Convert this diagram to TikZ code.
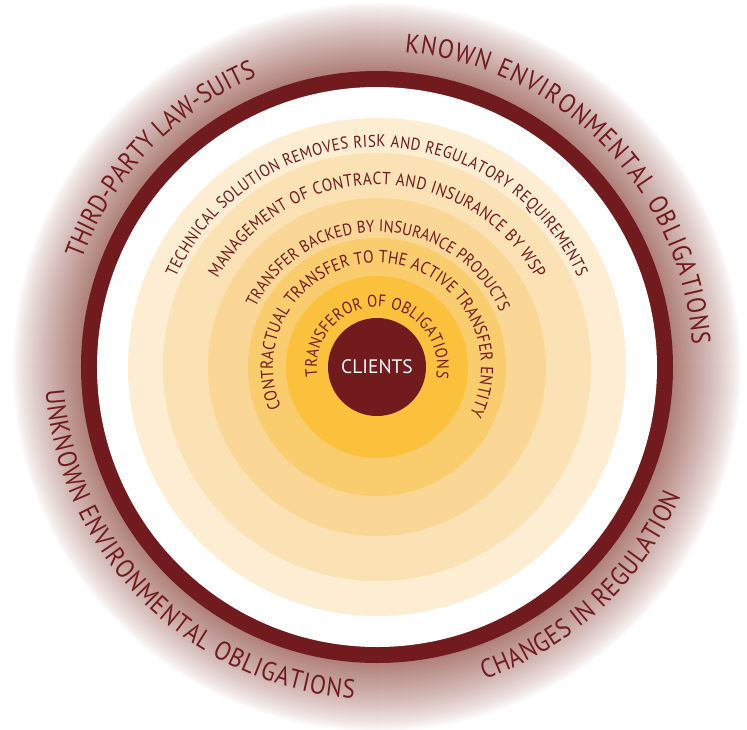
\documentclass[tikz,border=0pt]{standalone}
\usepackage{fontspec}
\setmainfont{PT Sans}
\newfontfamily\arcfont[FakeStretch=0.88]{PT Sans}
\usetikzlibrary{decorations.text}
\definecolor{wine}{RGB}{114,27,31}
\definecolor{glowA}{RGB}{176,128,122}
\definecolor{ringA}{RGB}{253,237,211}
\definecolor{ringB}{RGB}{251,226,180}
\definecolor{ringC}{RGB}{250,215,150}
\definecolor{ringD}{RGB}{249,204,110}
\definecolor{ringE}{RGB}{251,192,60}
\newcommand\outerfont{\arcfont\fontsize{26.5}{26.5}\selectfont}
\newcommand\innerfont{\arcfont\fontsize{17}{17}\selectfont}
\newcommand\managefont{\arcfont\fontsize{17.5}{17.5}\selectfont}
\newcommand\backedfont{\arcfont\fontsize{16.8}{16.8}\selectfont}
\newcommand\contractfont{\arcfont\fontsize{17.5}{17.5}\selectfont}
\newcommand\coreringfont{\arcfont\fontsize{16.8}{16.8}\selectfont}
\tikzset{
  curvedtext/.style 2 args={decorate, decoration={text along path, text={|#1|#2}, text align={fit to path}, text color=wine}},
  disc/.style={fill=#1, draw=none}
}
\begin{document}
\begin{tikzpicture}
\useasboundingbox (-377pt,-362pt) rectangle (370pt,367pt);
% glow
\foreach \r in {365,364,...,296}{
  \pgfmathsetmacro{\p}{100*((365-\r)/69)^0.8}
  \fill[glowA!\p!white] (0,0) circle[radius=\r pt];
}
% dark ring
\fill[wine] (0,0) circle[radius=296pt];
\fill[white] (0,0) circle[radius=280pt];
% yellow rings
\fill[disc=ringA] (0,0) circle[radius=249pt];
\fill[disc=ringB] (0,0) circle[radius=214pt];
\fill[disc=ringC] (0,0) circle[radius=169pt];
\fill[disc=ringD] (0,0) circle[radius=129pt];
\fill[disc=ringE] (0,0) circle[radius=91pt];
\node[circle, fill=wine, minimum size=98pt, inner sep=0pt, text=white, font=\fontsize{19.5}{19.5}\selectfont] (clients) at (0,0) {CLIENTS};
% outer texts
\path[curvedtext={\outerfont}{THIRD-PARTY LAW-SUITS}] (160:314pt) arc[start angle=160, end angle=112.5, radius=314pt];
\path[curvedtext={\outerfont}{KNOWN ENVIRONMENTAL OBLIGATIONS}] (85:316pt) arc[start angle=85, end angle=4, radius=316pt];
\path[curvedtext={\outerfont}{UNKNOWN ENVIRONMENTAL OBLIGATIONS}] (184:332pt) arc[start angle=184, end angle=266, radius=332pt];
\path[curvedtext={\outerfont}{CHANGES IN REGULATION}] (289:330pt) arc[start angle=289, end angle=337, radius=330pt];
% inner texts
\path[curvedtext={\innerfont}{TECHNICAL SOLUTION REMOVES RISK AND REGULATORY REQUIREMENTS}] (156:220pt) arc[start angle=156, end angle=24, radius=220pt];
\path[curvedtext={\managefont}{MANAGEMENT OF CONTRACT AND INSURANCE BY WSP}] (151:182pt) arc[start angle=151, end angle=29, radius=182pt];
\path[curvedtext={\backedfont}{TRANSFER BACKED BY INSURANCE PRODUCTS}] (154:135pt) arc[start angle=154, end angle=24, radius=135pt];
\path[curvedtext={\contractfont}{CONTRACTUAL TRANSFER TO THE ACTIVE TRANSFER ENTITY}] (203:104pt) arc[start angle=203, end angle=-27, radius=104pt];
\path[curvedtext={\coreringfont}{TRANSFEROR OF OBLIGATIONS}] (189:60pt) arc[start angle=189, end angle=-10.5, radius=60pt];
\end{tikzpicture}
\end{document}
